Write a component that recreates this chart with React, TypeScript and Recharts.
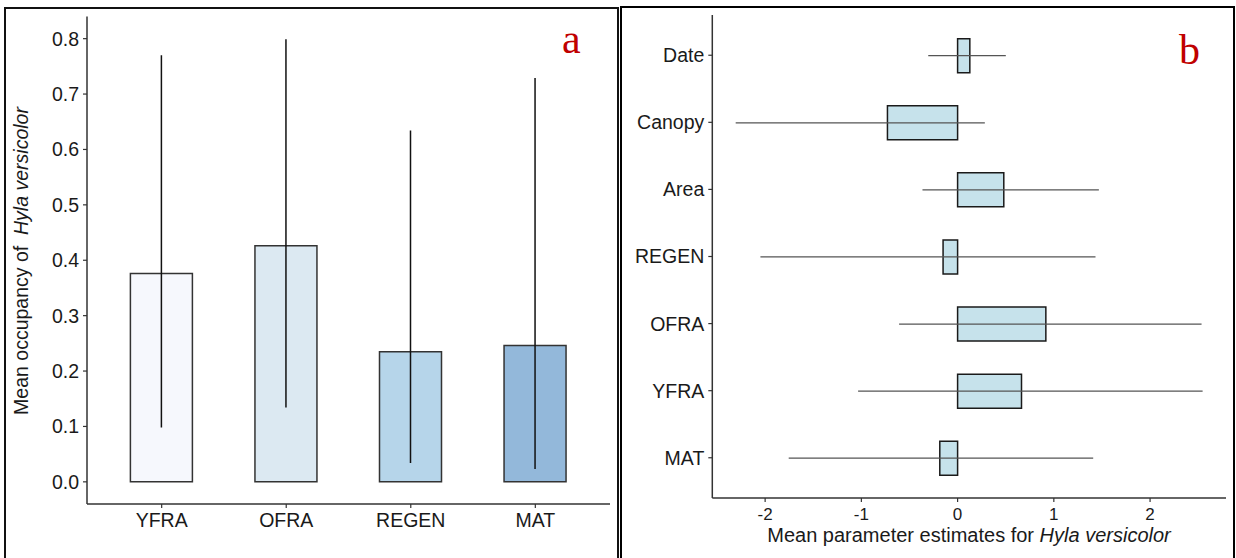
import React from 'react';
import { BarChart, Bar, XAxis, YAxis, ErrorBar, Cell } from 'recharts';

// ---- Panel a: mean occupancy by habitat ----
const habitats = ['YFRA', 'OFRA', 'REGEN', 'MAT'];
const occupancyMean = [0.376, 0.426, 0.235, 0.246];
const occupancyLower = [0.098, 0.134, 0.034, 0.023];
const occupancyUpper = [0.77, 0.799, 0.634, 0.729];
const habitatColors = ['#f6f8fd', '#dce9f2', '#b6d5ea', '#93b8da'];
const occupancyTicks = [0, 0.1, 0.2, 0.3, 0.4, 0.5, 0.6, 0.7, 0.8];

// ---- Panel b: parameter estimates ----
const params = ['Date', 'Canopy', 'Area', 'REGEN', 'OFRA', 'YFRA', 'MAT'];
const paramEst = [0.127, -0.729, 0.48, -0.151, 0.917, 0.664, -0.185];
const paramLower = [-0.305, -2.306, -0.365, -2.049, -0.608, -1.034, -1.755];
const paramUpper = [0.501, 0.283, 1.468, 1.433, 2.535, 2.546, 1.409];
const estimateTicks = [-2, -1, 0, 1, 2];

const occupancyData = habitats.map((name, i) => ({
  name,
  mean: occupancyMean[i],
  err: [occupancyMean[i] - occupancyLower[i], occupancyUpper[i] - occupancyMean[i]],
}));

const paramData = params.map((name, i) => ({
  name,
  est: paramEst[i],
  err: [paramEst[i] - paramLower[i], paramUpper[i] - paramEst[i]],
}));

const SANS = '"Liberation Sans", Arial, sans-serif';
const SERIF = '"Liberation Serif", "Times New Roman", serif';
const TEXT = '#1a1a1a';
const AXIS = '#333';

export default function App() {
  return (
    <div
      style={{
        position: 'absolute',
        left: 0,
        top: 0,
        width: 1236,
        height: 558,
        background: '#fff',
        overflow: 'hidden',
        fontFamily: SANS,
      }}
    >
      {/* Left chart */}
      <div style={{ position: 'absolute', left: 0, top: 0 }}>
        <BarChart
          width={617}
          height={558}
          data={occupancyData}
          margin={{ top: 16.5, right: 7, bottom: 0, left: 0 }}
        >
          <XAxis
            dataKey="name"
            height={54}
            padding={{ left: 12.4, right: 12.4 }}
            tickSize={4}
            tickMargin={5}
            tick={{ fontSize: 19.5, fill: TEXT, fontFamily: SANS }}
            tickLine={{ stroke: AXIS, strokeWidth: 1.2 }}
            axisLine={{ stroke: AXIS, strokeWidth: 1.5 }}
            interval={0}
          />
          <YAxis
            type="number"
            width={87}
            domain={[-0.04, 0.84]}
            allowDataOverflow
            ticks={occupancyTicks}
            tickFormatter={(v: number) => v.toFixed(1)}
            tickSize={4}
            tickMargin={4}
            tick={{ fontSize: 19.5, fill: TEXT, fontFamily: SANS }}
            tickLine={{ stroke: AXIS, strokeWidth: 1.2 }}
            axisLine={{ stroke: AXIS, strokeWidth: 1.5 }}
          />
          <Bar
            dataKey="mean"
            barSize={62}
            stroke={AXIS}
            strokeWidth={1.5}
            isAnimationActive={false}
          >
            {occupancyData.map((d, i) => (
              <Cell key={d.name} fill={habitatColors[i]} />
            ))}
            <ErrorBar
              dataKey="err"
              width={0}
              stroke="#111"
              strokeWidth={1.5}
              direction="y"
              isAnimationActive={false}
            />
          </Bar>
        </BarChart>
      </div>

      {/* Right chart */}
      <div style={{ position: 'absolute', left: 620, top: 0 }}>
        <BarChart
          width={615}
          height={558}
          data={paramData}
          layout="vertical"
          margin={{ top: 15, right: 9, bottom: 0, left: 0 }}
        >
          <XAxis
            type="number"
            height={60}
            domain={[-2.549, 2.789]}
            allowDataOverflow
            ticks={estimateTicks}
            tickSize={4}
            tickMargin={6}
            tick={{ fontSize: 17, fill: TEXT, fontFamily: SANS }}
            tickLine={{ stroke: AXIS, strokeWidth: 1.2 }}
            axisLine={{ stroke: AXIS, strokeWidth: 1.5 }}
          />
          <YAxis
            type="category"
            dataKey="name"
            width={92.3}
            padding={{ top: 6.7, bottom: 6.7 }}
            tickSize={4}
            tickMargin={4}
            interval={0}
            tick={{ fontSize: 19.5, fill: TEXT, fontFamily: SANS }}
            tickLine={{ stroke: AXIS, strokeWidth: 1.2 }}
            axisLine={{ stroke: AXIS, strokeWidth: 1.5 }}
          />
          <Bar
            dataKey="est"
            barSize={34}
            fill="#c6e2eb"
            stroke="#1a1a1a"
            strokeWidth={1.5}
            isAnimationActive={false}
          >
            <ErrorBar
              dataKey="err"
              width={0}
              stroke="#555"
              strokeWidth={1.2}
              direction="x"
              isAnimationActive={false}
            />
          </Bar>
        </BarChart>
      </div>

      {/* Text overlay */}
      <svg
        width={1236}
        height={558}
        style={{ position: 'absolute', left: 0, top: 0, pointerEvents: 'none' }}
      >
        <text
          x={28}
          y={261}
          transform="rotate(-90 28 261)"
          textAnchor="middle"
          fontSize={19.5}
          fill={TEXT}
          fontFamily={SANS}
          style={{ whiteSpace: 'pre' }}
        >
          <tspan>{'Mean occupancy of  '}</tspan>
          <tspan fontStyle="italic">Hyla versicolor</tspan>
        </text>
        <text
          x={969}
          y={541.5}
          textAnchor="middle"
          fontSize={20}
          fill={TEXT}
          fontFamily={SANS}
          style={{ whiteSpace: 'pre' }}
        >
          <tspan>{'Mean parameter estimates for '}</tspan>
          <tspan fontStyle="italic">Hyla versicolor</tspan>
        </text>
        <text x={562} y={53} fontSize={42} fill="#c00000" fontFamily={SERIF}>
          a
        </text>
        <text x={1179} y={64} fontSize={42} fill="#c00000" fontFamily={SERIF}>
          b
        </text>
      </svg>

      {/* Panel borders */}
      <div
        style={{
          position: 'absolute',
          left: 4,
          top: 7,
          width: 615,
          height: 560,
          border: '2px solid #111',
          boxSizing: 'border-box',
          pointerEvents: 'none',
        }}
      />
      <div
        style={{
          position: 'absolute',
          left: 620,
          top: 6,
          width: 615,
          height: 560,
          border: '2.5px solid #000',
          boxSizing: 'border-box',
          pointerEvents: 'none',
        }}
      />
    </div>
  );
}
